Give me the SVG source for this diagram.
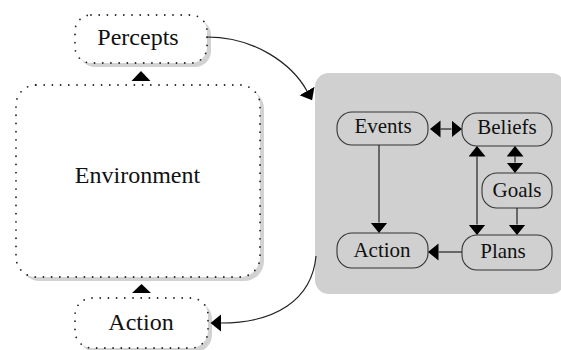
<svg xmlns="http://www.w3.org/2000/svg" width="561" height="350" viewBox="0 0 561 350">
  <style>
    .lbl { font-family: "Liberation Serif", "Times New Roman", serif; fill: #111; text-anchor: middle; }
    .big { font-size: 24px; }
    .small { font-size: 21px; }
    .shadow { fill: #d2d2d2; }
    .dotted { fill: #fff; stroke: #222; stroke-width: 1.8; stroke-dasharray: 0 8.2; stroke-linecap: round; }
    .pill { fill: none; stroke: #333; stroke-width: 1.1; }
    .edge { fill: none; stroke: #222; stroke-width: 1.2; }
    .head { fill: #000; }
  </style>
  <defs>
    <marker id="arrow" markerUnits="userSpaceOnUse" markerWidth="12" markerHeight="18" refX="0" refY="8.5" orient="auto-start-reverse">
      <path d="M0,0 L10.5,8.5 L0,17 Z" fill="#000"/>
    </marker>
  </defs>

  <!-- agent panel -->
  <g id="agent">
    <rect x="315" y="73" width="250" height="221" rx="14" fill="#d0d0d0"/>
  </g>

  <!-- environment side -->
  <g id="percepts">
    <rect class="shadow" x="79" y="19" width="132" height="48" rx="16"/>
    <rect class="dotted" x="75" y="15" width="132" height="48" rx="16"/>
    <text class="lbl big" x="138" y="45">Percepts</text>
  </g>
  <g id="environment">
    <rect class="shadow" x="20" y="89" width="244" height="192" rx="20"/>
    <rect class="dotted" x="16" y="85" width="244" height="192" rx="20"/>
    <text class="lbl big" x="137.5" y="183">Environment</text>
  </g>
  <g id="action-out">
    <rect class="shadow" x="79" y="302" width="133" height="50" rx="17"/>
    <rect class="dotted" x="75" y="298" width="133" height="50" rx="17"/>
    <text class="lbl big" x="141" y="330">Action</text>
  </g>

  <!-- agent internals -->
  <g id="events">
    <rect class="pill" x="337" y="112" width="91" height="33" rx="15"/>
    <text class="lbl small" x="383" y="133">Events</text>
  </g>
  <g id="beliefs">
    <rect class="pill" x="462" y="113" width="90" height="33" rx="15"/>
    <text class="lbl small" x="507" y="134">Beliefs</text>
  </g>
  <g id="goals">
    <rect class="pill" x="482" y="173" width="70" height="35" rx="15"/>
    <text class="lbl small" x="517" y="197">Goals</text>
  </g>
  <g id="action-in">
    <rect class="pill" x="337" y="233" width="91" height="35" rx="15"/>
    <text class="lbl small" x="382" y="257">Action</text>
  </g>
  <g id="plans">
    <rect class="pill" x="462" y="235" width="90" height="35" rx="15"/>
    <text class="lbl small" x="503" y="258">Plans</text>
  </g>

  <g id="connectors">
    <!-- environment flow -->
    <path class="edge" d="M207,37 C255,37 292,64 307,91" marker-end="url(#arrow)"/>
    <path class="edge" d="M316,256 C312,300 275,323 221,323" marker-end="url(#arrow)"/>
    <polygon class="head" points="131.5,81 150.5,81 141,71"/>
    <polygon class="head" points="132,293 151,293 141.5,284"/>
    <!-- internal flow -->
    <path class="edge" d="M440.5,129 L451.5,129" marker-start="url(#arrow)" marker-end="url(#arrow)"/>
    <path class="edge" d="M379,145 L379,222.5" marker-end="url(#arrow)"/>
    <path class="edge" d="M477,156.5 L477,224.5" marker-start="url(#arrow)" marker-end="url(#arrow)"/>
    <path class="edge" d="M515,156.5 L515,162.5" marker-start="url(#arrow)" marker-end="url(#arrow)"/>
    <path class="edge" d="M517,208 L517,224.5" marker-end="url(#arrow)"/>
    <path class="edge" d="M462,252 L438.5,252" marker-end="url(#arrow)"/>
  </g>
</svg>
